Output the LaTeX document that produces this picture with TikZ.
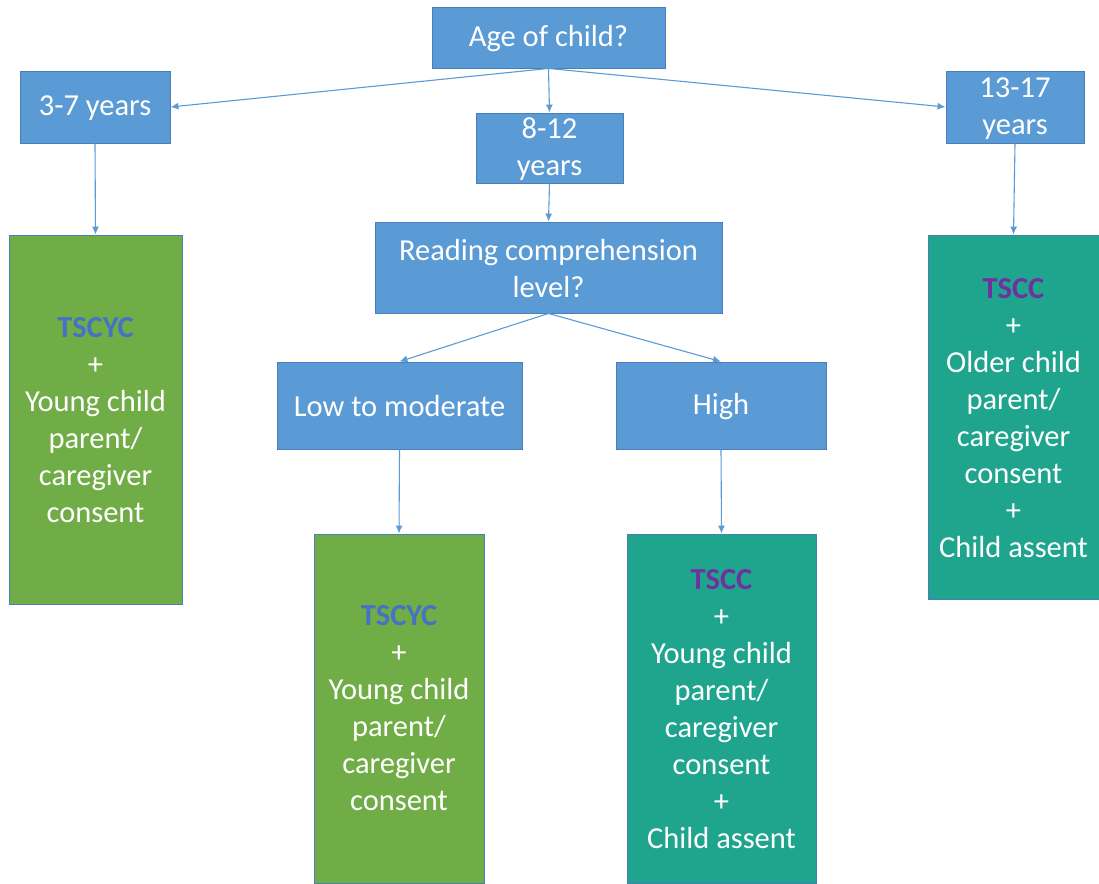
\documentclass[tikz,border=0pt]{standalone}
\usepackage{fontspec}
\setmainfont{Carlito}
\usetikzlibrary{arrows.meta}
\definecolor{boxblue}{HTML}{5B9BD5}
\definecolor{edgeblue}{HTML}{4A7EBB}
\definecolor{boxgreen}{HTML}{70AD47}
\definecolor{boxteal}{HTML}{1FA58D}
\definecolor{tscycblue}{HTML}{4472C4}
\definecolor{tsccpurple}{HTML}{7030A0}
\definecolor{arrowblue}{HTML}{5B9BD5}
\tikzset{
  base/.style={rectangle, draw=edgeblue, line width=0.9pt, inner sep=0pt, align=center,
    text=white, font=\fontsize{30.5}{37}\selectfont},
  bbox/.style={base, fill=boxblue},
  gbox/.style={base, fill=boxgreen},
  tbox/.style={base, fill=boxteal},
  txt/.style={text=white, align=center, font=\fontsize{30.5}{37}\selectfont},
  conn/.style={draw=arrowblue, line width=1.1pt, -{Latex[length=8pt,width=7pt]}},
}
\newcommand{\tscyc}{\textcolor{tscycblue}{\textbf{TSCYC}}}
\newcommand{\tscc}{\textcolor{tsccpurple}{\textbf{TSCC}}}
\begin{document}
\begin{tikzpicture}[x=1pt,y=-1pt]
\useasboundingbox (0,0) rectangle (1099,883);
% blue decision boxes
\node[bbox, minimum width=233, minimum height=61] (age) at (548.5,37.5) {};
\node[txt] at (548.5,38.5) {Age of child?};
\node[bbox, minimum width=150, minimum height=72] (y37) at (95,107) {};
\node[txt] at (95,108.5) {3-7 years};
\node[bbox, minimum width=147, minimum height=70] (y812) at (549.5,148) {};
\node[txt] at (549.5,149.5) {8-12\\years};
\node[bbox, minimum width=138, minimum height=72] (y1317) at (1015,107) {};
\node[txt] at (1015,109) {13-17\\years};
\node[bbox, minimum width=347, minimum height=91] (read) at (548.5,267.5) {};
\node[txt] at (548.5,269) {Reading comprehension\\level?};
\node[bbox, minimum width=245, minimum height=87] (low) at (399.5,405.5) {};
\node[txt] at (399.5,406.5) {Low to moderate};
\node[bbox, minimum width=210, minimum height=87] (high) at (721,405.5) {};
\node[txt] at (721,407) {High};
% result boxes
\node[gbox, minimum width=173, minimum height=369] (g1) at (95.5,419.5) {};
\node[txt] at (95.5,420) {\tscyc\\+\\Young child\\parent/\\caregiver\\consent};
\node[tbox, minimum width=171, minimum height=364] (t1) at (1013.5,417) {};
\node[txt] at (1013.5,418.5) {\tscc\\+\\Older child\\parent/\\caregiver\\consent\\+\\Child assent};
\node[gbox, minimum width=170, minimum height=349] (g2) at (399,708.5) {};
\node[txt] at (399,708.5) {\tscyc\\+\\Young child\\parent/\\caregiver\\consent};
\node[tbox, minimum width=189, minimum height=349] (t2) at (721.5,708.5) {};
\node[txt] at (721.5,709.5) {\tscc\\+\\Young child\\parent/\\caregiver\\consent\\+\\Child assent};
% connectors
\draw[conn] (age.south) -- (y37.east);
\draw[conn] (age.south) -- (y812.north);
\draw[conn] (age.south) -- (y1317.west);
\draw[conn] (y37.south) -- (g1.north);
\draw[conn] (y1317.south) -- (t1.north);
\draw[conn] (y812.south) -- (read.north);
\draw[conn] (read.south) -- (low.north);
\draw[conn] (read.south) -- (high.north);
\draw[conn] (low.south) -- (g2.north);
\draw[conn] (high.south) -- (t2.north);
\end{tikzpicture}
\end{document}
